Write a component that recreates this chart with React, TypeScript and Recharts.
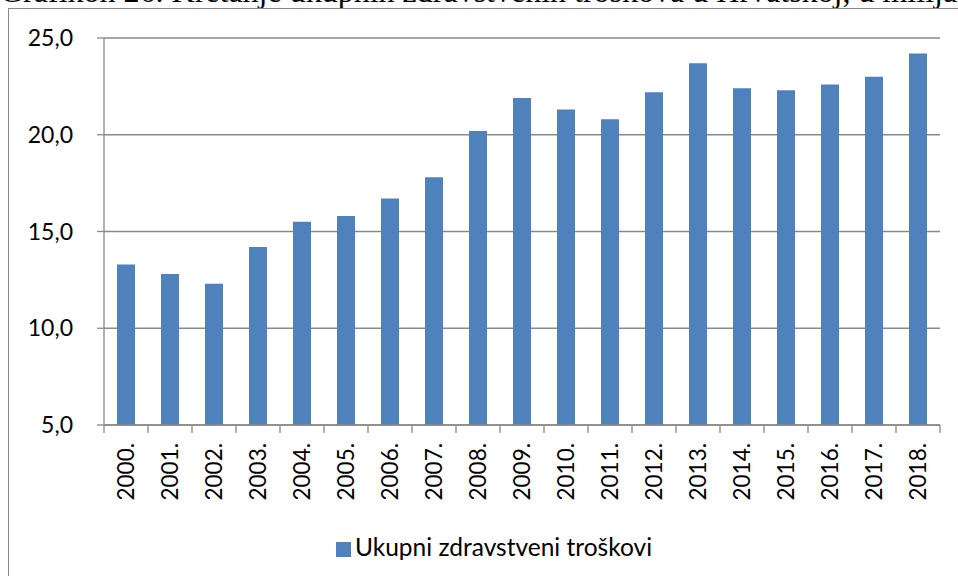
import { Bar, BarChart, CartesianGrid, Legend, XAxis, YAxis } from 'recharts'

const years = [
  '2000.', '2001.', '2002.', '2003.', '2004.', '2005.', '2006.', '2007.', '2008.', '2009.',
  '2010.', '2011.', '2012.', '2013.', '2014.', '2015.', '2016.', '2017.', '2018.',
]
const costs = [
  13.3, 12.8, 12.3, 14.2, 15.5, 15.8, 16.7, 17.8, 20.2, 21.9,
  21.3, 20.8, 22.2, 23.7, 22.4, 22.3, 22.6, 23.0, 24.2,
]
const yTicks = [5, 10, 15, 20, 25]
const seriesName = 'Ukupni zdravstveni troškovi'
const title = 'Grafikon 26. Kretanje ukupnih zdravstvenih troškova u Hrvatskoj, u milijardama kuna'

const data = years.map((year, i) => ({ year, value: costs[i] }))

const W = 958
const H = 576
const PLOT_LEFT = 104
const PLOT_RIGHT = 940
const PLOT_TOP = 38
const PLOT_BOTTOM = 425
const BAND = (PLOT_RIGHT - PLOT_LEFT) / years.length
const GRAY = '#898989'
const BLUE = '#4f81bd'
const FONT = 'Lato, "Open Sans", sans-serif'

const YearTick = (props: any) => {
  const { x, payload, index } = props
  const left = x - BAND / 2
  return (
    <g>
      <line x1={left} x2={left} y1={PLOT_BOTTOM} y2={PLOT_BOTTOM + 8} stroke={GRAY} strokeWidth={1.3} />
      {index === years.length - 1 && (
        <line x1={left + BAND} x2={left + BAND} y1={PLOT_BOTTOM} y2={PLOT_BOTTOM + 8} stroke={GRAY} strokeWidth={1.3} />
      )}
      <g transform={`translate(${x},${PLOT_BOTTOM + 18}) rotate(-90)`}>
        <text x={0} y={0} dy="0.36em" textAnchor="end" fill="#000" fontSize={22.5} fontFamily={FONT}>
          {payload.value}
        </text>
      </g>
    </g>
  )
}

export default function App() {
  return (
    <div
      style={{
        position: 'fixed',
        left: 0,
        top: 0,
        width: W,
        height: H,
        overflow: 'hidden',
        background: '#fff',
      }}
    >
      <div
        style={{
          position: 'absolute',
          left: 0,
          top: -25,
          whiteSpace: 'nowrap',
          fontFamily: '"Liberation Serif", serif',
          fontSize: 32,
          lineHeight: '32px',
          color: '#000',
        }}
      >
        {title}
      </div>
      <div
        style={{
          position: 'absolute',
          left: 8,
          top: 8,
          width: W + 20,
          height: H + 20,
          border: `1.5px solid ${GRAY}`,
        }}
      />
      <div style={{ position: 'absolute', left: 0, top: 0 }}>
        <BarChart
          width={W}
          height={H}
          data={data}
          margin={{ top: PLOT_TOP, right: W - PLOT_RIGHT, left: 0, bottom: 0 }}
          barSize={18}
        >
          <CartesianGrid vertical={false} stroke={GRAY} strokeWidth={1.3} />
          <XAxis
            dataKey="year"
            interval={0}
            height={H - PLOT_BOTTOM - 48}
            tickLine={false}
            axisLine={{ stroke: GRAY, strokeWidth: 1.3 }}
            tick={<YearTick />}
          />
          <YAxis
            width={PLOT_LEFT}
            domain={[5, 25]}
            ticks={yTicks}
            interval={0}
            tickSize={7}
            tickMargin={24}
            tickLine={{ stroke: GRAY, strokeWidth: 1.3 }}
            axisLine={{ stroke: GRAY, strokeWidth: 1.3 }}
            tickFormatter={(v: number) => v.toFixed(1).replace('.', ',')}
            tick={{ fill: '#000', fontSize: 23, fontFamily: FONT }}
          />
          <Legend
            verticalAlign="bottom"
            align="center"
            iconType="square"
            iconSize={15}
            formatter={(value: string) => <span style={{ color: '#000' }}>{value}</span>}
            wrapperStyle={{
              height: 48,
              boxSizing: 'border-box',
              paddingTop: 5,
              paddingLeft: 58,
              fontFamily: FONT,
              fontSize: 24.5,
              lineHeight: '28px',
            }}
          />
          <Bar dataKey="value" name={seriesName} fill={BLUE} isAnimationActive={false} />
        </BarChart>
      </div>
    </div>
  )
}
